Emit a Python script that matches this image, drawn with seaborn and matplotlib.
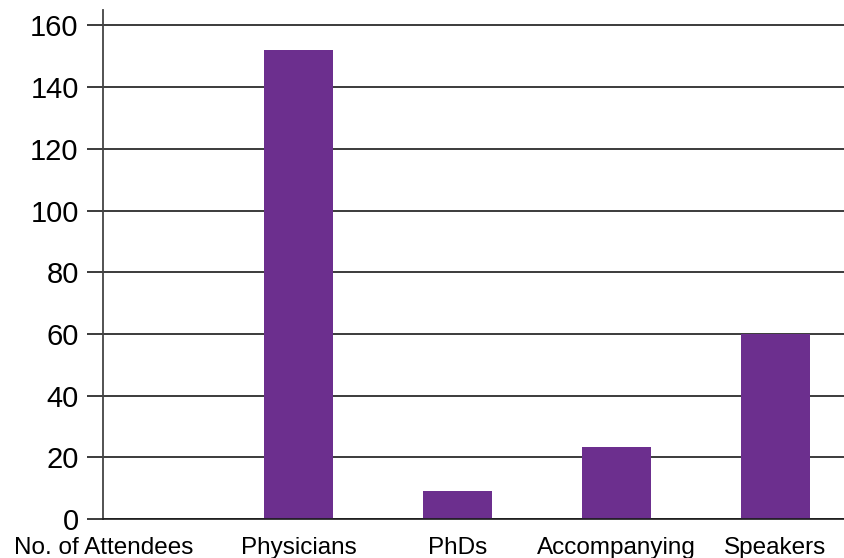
import matplotlib
matplotlib.use("Agg")
import matplotlib.pyplot as plt
import matplotlib.transforms as mtransforms
import seaborn as sns
import pandas as pd

# Данные
categories = ["No. of Attendees", "Physicians", "PhDs", "Accompanying", "Speakers"]
counts = [0, 152, 9, 23.5, 60]
y_ticks = [0, 20, 40, 60, 80, 100, 120, 140, 160]

df = pd.DataFrame({"category": categories, "count": counts})

sns.set_style("white")
plt.rcParams["font.family"] = ["Liberation Sans", "DejaVu Sans"]

fig = plt.figure(figsize=(8.45, 5.58), dpi=100)
ax = fig.add_axes([0.1219, 0.0699, 0.8781, 0.9121])

sns.barplot(data=df, x="category", y="count", color="#6c2f8e", saturation=1,
            width=0.434, linewidth=0, ax=ax, zorder=3)

ax.set_xlim(-0.23, 4.44)
ax.set_ylim(0, 165)
ax.set_yticks(y_ticks)
ax.set_xlabel("")
ax.set_ylabel("")

ax.grid(axis="y", color="#1a1a1a", linewidth=1.2, zorder=0)
ax.set_axisbelow(True)
for side in ["top", "right"]:
    ax.spines[side].set_visible(False)
ax.spines["left"].set_color("#444444")
ax.spines["left"].set_linewidth(1.3)
ax.spines["bottom"].set_color("#1a1a1a")
ax.spines["bottom"].set_linewidth(1.2)
ax.spines["bottom"].set_zorder(4)

ax.tick_params(axis="y", left=True, length=11.5, width=1.2, color="#1a1a1a",
               pad=6, labelsize=21, labelcolor="black")
ax.tick_params(axis="x", bottom=False, length=0, pad=13, labelsize=17.5, labelcolor="black")

# первая подпись сдвинута влево
lbl = ax.get_xticklabels()[0]
lbl.set_transform(lbl.get_transform() + mtransforms.ScaledTranslation(-36 / 100, 0, fig.dpi_scale_trans))

fig.savefig("out.png", dpi=100)
